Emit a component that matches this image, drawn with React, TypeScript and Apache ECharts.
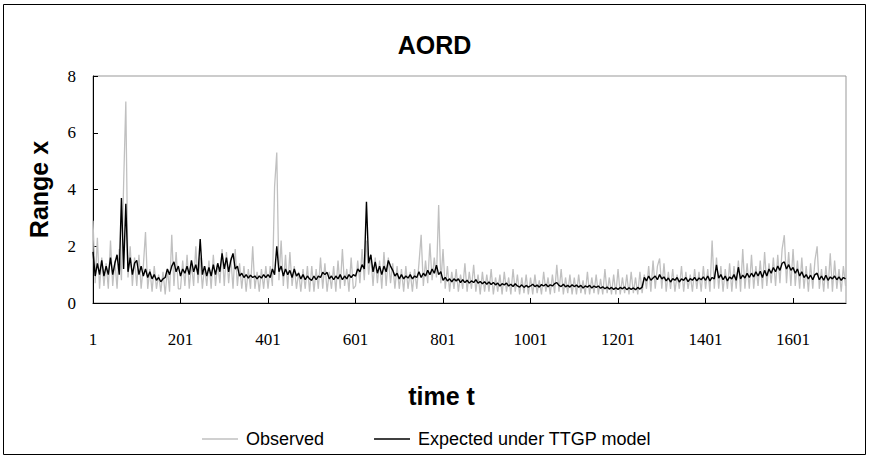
import React, { useEffect, useRef } from "react";
import * as echarts from "echarts";

const chartTitle = "AORD";
const xName = "time t";
const yName = "Range x";
const startT = 1;
const stepT = 5;
const xTickValues = [1, 201, 401, 601, 801, 1001, 1201, 1401, 1601];

const observed = [
  2.9, 0.7, 2.3, 0.5, 1.6, 0.6, 1.4, 0.5, 2.2, 0.6, 1.5, 0.5, 1.9, 0.8, 4.2, 7.1, 0.9, 2.0, 0.6, 1.6,
  0.6, 1.7, 0.5, 1.3, 2.5, 0.5, 1.2, 0.4, 1.3, 0.5, 1.0, 0.4, 1.1, 0.3, 1.2, 0.4, 2.4, 0.6, 1.8, 0.5,
  0.5, 1.5, 0.6, 1.7, 0.5, 1.4, 0.6, 2.0, 0.7, 1.6, 0.5, 1.3, 0.6, 1.5, 0.5, 1.7, 0.6, 1.4, 0.7, 1.9,
  0.6, 1.8, 0.7, 1.6, 0.5, 1.9, 0.6, 1.4, 0.5, 1.3, 0.4, 1.2, 0.5, 2.0, 0.5, 1.1, 0.4, 1.2, 0.5, 1.3,
  0.5, 1.3, 0.6, 4.1, 5.3, 0.8, 2.2, 0.6, 1.7, 0.5, 1.8, 0.6, 1.3, 0.5, 1.1, 0.4, 1.2, 0.5, 1.3, 0.4,
  1.3, 0.4, 1.2, 0.5, 1.6, 0.5, 1.4, 0.4, 1.1, 0.5, 1.3, 0.4, 1.5, 0.5, 1.9, 0.6, 1.2, 0.4, 1.6, 0.5,
  0.6, 1.5, 0.7, 1.9, 0.8, 2.2, 1.0, 1.7, 0.6, 1.6, 0.7, 1.5, 0.5, 1.8, 0.6, 1.6, 0.7, 1.4, 0.5, 1.3,
  0.5, 1.2, 0.4, 1.3, 0.5, 1.1, 0.4, 1.2, 0.5, 1.4, 2.4, 0.6, 1.5, 0.7, 2.1, 0.8, 1.6, 0.9, 3.45, 0.7,
  1.9, 0.5, 1.3, 0.4, 1.1, 0.5, 1.2, 0.4, 1.0, 0.5, 1.4, 0.4, 1.1, 0.5, 1.35, 0.4, 1.0, 0.3, 1.1, 0.4,
  1.0, 0.4, 1.2, 0.3, 0.9, 0.4, 1.0, 0.3, 1.1, 0.4, 0.9, 0.3, 1.2, 0.4, 1.0, 0.3, 0.9, 0.35, 1.0, 0.3,
  0.9, 0.3, 1.0, 0.35, 0.8, 0.3, 1.1, 0.4, 0.9, 0.3, 1.0, 0.35, 1.35, 0.4, 1.2, 0.3, 0.9, 0.35, 1.0, 0.3,
  0.9, 0.3, 1.0, 0.35, 0.8, 0.3, 1.1, 0.3, 0.9, 0.35, 1.0, 0.3, 0.85, 0.3, 1.2, 0.35, 0.9, 0.3, 1.0, 0.3,
  1.2, 0.3, 0.9, 0.35, 1.0, 0.3, 1.1, 0.35, 0.9, 0.3, 1.1, 0.35, 1.0, 0.5, 1.3, 0.4, 1.5, 0.5, 1.3, 1.57,
  0.5, 1.4, 0.4, 1.1, 0.5, 1.2, 0.4, 1.0, 0.5, 1.3, 0.4, 1.1, 0.5, 1.0, 0.4, 1.2, 0.5, 1.1, 0.4, 1.3,
  0.5, 1.2, 0.4, 2.2, 0.5, 1.6, 0.5, 1.3, 0.4, 1.2, 0.5, 1.4, 0.4, 1.3, 0.5, 1.5, 0.4, 1.9, 0.5, 1.4,
  0.5, 1.7, 0.5, 1.3, 0.6, 1.5, 0.5, 1.8, 0.6, 1.4, 0.7, 1.6, 0.6, 1.7, 0.7, 1.9, 2.39, 0.7, 1.8, 0.6,
  1.9, 0.6, 1.5, 0.5, 1.6, 0.5, 1.3, 0.4, 1.4, 0.5, 1.5, 2.0, 0.5, 1.2, 0.4, 1.3, 0.5, 1.75, 0.4, 1.5,
  0.5, 1.2, 0.4, 1.3, 0.6,
];

// Expected under TTGP model, same sampling
const expected = [
  1.8, 0.95, 1.4, 1.0, 1.5, 0.95, 1.3, 1.0, 1.6, 1.0, 1.4, 1.7, 1.0, 3.7, 1.2, 3.5, 1.1, 1.6, 1.0, 1.4,
  1.5, 1.0, 1.3, 0.95, 1.2, 0.9, 1.1, 0.85, 1.0, 0.8, 0.9, 0.75, 0.85, 0.9, 1.2, 1.0, 1.3, 1.45, 1.1, 1.3,
  0.95, 1.2, 1.05, 1.3, 1.0, 1.5, 1.1, 1.35, 1.0, 2.25, 1.0, 1.3, 0.95, 1.25, 0.95, 1.35, 1.0, 1.4, 1.1, 1.75,
  1.2, 1.6, 1.1, 1.5, 1.75, 1.2, 1.3, 0.95, 1.05, 0.9, 1.0, 0.88, 0.98, 0.9, 0.95, 0.85, 0.95, 0.88, 1.0, 0.9,
  1.0, 0.9, 1.2, 1.0, 2.0, 1.1, 1.3, 0.95, 1.2, 1.0, 1.15, 0.9, 1.2, 0.95, 1.05, 0.85, 1.0, 0.82, 0.95, 0.85,
  0.8, 0.95, 0.82, 0.95, 0.9, 1.08, 1.0, 1.08, 0.85, 0.95, 0.82, 0.95, 0.85, 1.0, 0.82, 0.95, 0.85, 1.0, 0.9, 1.0,
  0.95, 1.2, 1.1, 1.35, 1.2, 3.57, 1.4, 1.7, 1.1, 1.45, 1.05, 1.3, 1.0, 1.3, 1.1, 1.5, 1.3, 1.15, 0.95, 1.05,
  0.85, 1.0, 0.85, 0.95, 0.88, 1.0, 0.85, 0.95, 0.9, 1.1, 0.9, 1.05, 0.95, 1.15, 1.0, 1.2, 1.05, 1.33, 1.0, 1.1,
  0.8, 0.9, 0.78, 0.85, 0.75, 0.85, 0.78, 0.85, 0.72, 0.82, 0.72, 0.8, 0.7, 0.78, 0.72, 0.82, 0.7, 0.76, 0.68, 0.75,
  0.66, 0.74, 0.65, 0.72, 0.64, 0.7, 0.6, 0.68, 0.64, 0.7, 0.6, 0.66, 0.58, 0.68, 0.6, 0.56, 0.64, 0.55, 0.62, 0.56,
  0.6, 0.66, 0.58, 0.63, 0.56, 0.65, 0.6, 0.66, 0.57, 0.64, 0.6, 0.68, 0.72, 0.62, 0.58, 0.66, 0.57, 0.62, 0.56, 0.64,
  0.58, 0.63, 0.56, 0.62, 0.53, 0.6, 0.56, 0.62, 0.53, 0.6, 0.55, 0.6, 0.52, 0.57, 0.5, 0.56, 0.49, 0.55, 0.48, 0.54,
  0.48, 0.55, 0.5, 0.56, 0.47, 0.54, 0.48, 0.53, 0.47, 0.55, 0.49, 0.56, 0.9, 0.78, 0.95, 0.8, 0.88, 0.95, 0.82, 1.0,
  0.85, 0.92, 0.78, 0.88, 0.74, 0.86, 0.8, 0.9, 0.74, 0.85, 0.8, 0.9, 0.75, 0.86, 0.8, 0.9, 0.78, 0.88, 0.82, 0.92,
  0.8, 0.95, 0.78, 0.9, 0.85, 1.34, 0.88, 1.0, 0.82, 0.95, 0.78, 0.92, 0.85, 1.0, 0.8, 1.26, 0.85, 0.98, 0.88, 1.05,
  0.9, 1.05, 0.92, 1.1, 0.95, 1.12, 0.9, 1.15, 0.95, 1.2, 1.05, 1.25, 1.1, 1.3, 1.15, 1.4, 1.45, 1.2, 1.35, 1.15,
  1.25, 1.05, 1.2, 0.95, 1.1, 0.9, 1.0, 0.85, 0.98, 0.82, 1.0, 1.05, 0.82, 0.95, 0.8, 0.98, 0.8, 0.92, 0.85, 0.95,
  0.82, 0.92, 0.8, 0.9, 0.85,
];

const tickFont = "'Liberation Serif', 'Times New Roman', serif";
const sansFont = "'Liberation Sans', Arial, sans-serif";

export default function App() {
  const ref = useRef<HTMLDivElement>(null);
  useEffect(() => {
    if (!ref.current) return;
    const chart = echarts.init(ref.current, null, { renderer: "svg" });
    const times = observed.map((_, i) => startT + i * stepT);
    chart.setOption({
      animation: false,
      backgroundColor: "#ffffff",
      title: {
        text: chartTitle,
        left: "center",
        top: 27,
        textStyle: { fontFamily: sansFont, fontWeight: "bold", fontSize: 25, color: "#000" },
      },
      legend: {
        left: 197,
        top: 425,
        icon: "rect",
        itemWidth: 36,
        itemHeight: 1.5,
        itemGap: 50,
        textStyle: { fontFamily: sansFont, fontSize: 18, color: "#000", padding: [0, 0, 0, 3] },
        data: ["Observed", "Expected under TTGP model"],
      },
      grid: {
        left: 93,
        right: 23,
        top: 76,
        bottom: 156,
        show: true,
        borderColor: "#999",
        borderWidth: 1,
        backgroundColor: "transparent",
      },
      xAxis: {
        type: "value",
        min: 1,
        max: 1722,
        name: xName,
        nameLocation: "middle",
        nameGap: 80,
        nameTextStyle: {
          fontFamily: sansFont,
          fontWeight: "bold",
          fontSize: 25,
          color: "#000",
          padding: [0, 56, 0, 0],
        },
        axisLine: { show: true, onZero: false, lineStyle: { color: "#000", width: 1 } },
        axisTick: { show: true, inside: true, length: 5, customValues: xTickValues, lineStyle: { color: "#000" } },
        axisLabel: {
          customValues: xTickValues,
          margin: 28,
          fontFamily: tickFont,
          fontSize: 17,
          color: "#000",
          formatter: (v: number) => String(v),
        },
        splitLine: { show: false },
      },
      yAxis: {
        type: "value",
        min: 0,
        max: 8,
        interval: 2,
        name: yName,
        nameLocation: "middle",
        nameGap: 42,
        nameRotate: 90,
        nameTextStyle: { fontFamily: sansFont, fontWeight: "bold", fontSize: 25, color: "#000" },
        axisLine: { show: true, lineStyle: { color: "#000", width: 1 } },
        axisTick: { show: true, inside: true, length: 5, lineStyle: { color: "#000" } },
        axisLabel: {
          margin: 17,
          fontFamily: tickFont,
          fontSize: 17,
          color: "#000",
          formatter: (v: number) => String(v),
        },
        splitLine: { show: false },
      },
      series: [
        {
          name: "Observed",
          type: "line",
          data: times.map((t, i) => [t, observed[i]]),
          symbol: "none",
          showSymbol: false,
          lineStyle: { color: "#c0c0c0", width: 1.3 },
          itemStyle: { color: "#c0c0c0" },
          z: 2,
        },
        {
          name: "Expected under TTGP model",
          type: "line",
          data: times.map((t, i) => [t, expected[i]]),
          symbol: "none",
          showSymbol: false,
          lineStyle: { color: "#000", width: 1.4 },
          itemStyle: { color: "#000" },
          z: 3,
        },
      ],
      graphic: [
        {
          type: "rect",
          silent: true,
          shape: { x: 3.5, y: 4.5, width: 862, height: 450 },
          style: { fill: "none", stroke: "#000", lineWidth: 1 },
        },
      ],
    });
    return () => chart.dispose();
  }, []);
  return <div ref={ref} style={{ position: "fixed", left: 0, top: 0, width: 869, height: 459 }} />;
}
